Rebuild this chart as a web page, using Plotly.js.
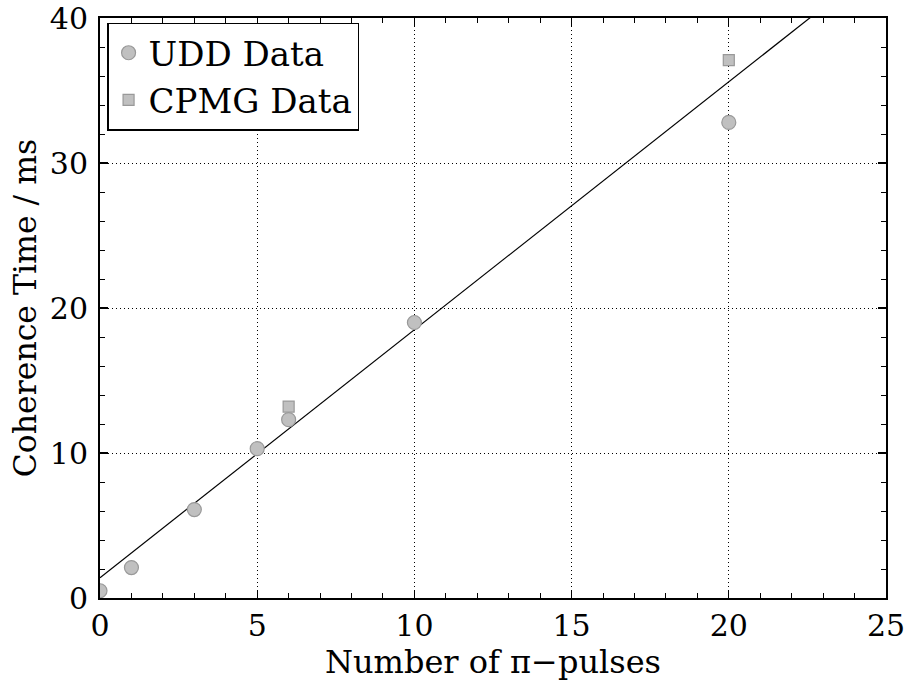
<!DOCTYPE html>
<html><head><meta charset="utf-8">
<script src="https://cdn.plot.ly/plotly-3.0.1.min.js"></script>
<style>body{margin:0;background:#fff}#chart{width:909px;height:681px}</style>
</head><body><div id="chart"></div>
<script>
var uddX = [0, 1, 3, 5, 6, 10, 20];
var uddY = [0.5, 2.1, 6.1, 10.3, 12.3, 19.0, 32.8];
var cpmgX = [6, 20];
var cpmgY = [13.2, 37.1];
var fitX = [0, 25];
var fitY = [1.4, 44.15];
var xTicks = [0, 5, 10, 15, 20, 25];
var yTicks = [0, 10, 20, 30, 40];

var F = "DejaVu Serif";
var traces = [
  {x: fitX, y: fitY, mode: 'lines', line: {color: '#000', width: 1.2}, showlegend: false, hoverinfo: 'skip'},
  {x: uddX, y: uddY, mode: 'markers', name: 'UDD Data',
   marker: {symbol: 'circle', size: 14, color: '#c0c0c0', line: {color: '#999', width: 1.2}}},
  {x: cpmgX, y: cpmgY, mode: 'markers', name: 'CPMG Data',
   marker: {symbol: 'square', size: 11, color: '#c0c0c0', line: {color: '#999', width: 1.2}}}
];
var axBase = {
  showline: true, linecolor: '#000', linewidth: 2, mirror: 'allticks',
  ticks: 'inside', ticklen: 8, tickwidth: 1.2, tickcolor: '#000',
  showgrid: true, gridcolor: '#000', griddash: '1px,3px', gridwidth: 1,
  zeroline: false, ticklabeloverflow: 'allow',
  tickfont: {family: F, size: 30, color: '#000'}
};
var layout = {
  width: 909, height: 681,
  margin: {l: 100, r: 23, t: 18, b: 83},
  paper_bgcolor: '#fff', plot_bgcolor: '#fff',
  font: {family: F, color: '#000'},
  xaxis: Object.assign({}, axBase, {
    range: [0, 25], tickvals: xTicks, ticktext: xTicks.map(String),
    minor: {dtick: 1, ticks: 'inside', ticklen: 5, tickcolor: '#000', tickwidth: 1, showgrid: false},
    title: {text: 'Number of π−pulses', font: {family: F, size: 32, color: '#000'}, standoff: 0}
  }),
  yaxis: Object.assign({}, axBase, {
    range: [0, 40], tickvals: yTicks, ticktext: yTicks.map(String), ticklabelstandoff: 4,
    minor: {dtick: 2, ticks: 'inside', ticklen: 5, tickcolor: '#000', tickwidth: 1, showgrid: false},
    title: {text: 'Coherence Time / ms', font: {family: F, size: 31.5, color: '#000'}, standoff: 4}
  }),
  legend: {x: 0.009, y: 0.992, xanchor: 'left', yanchor: 'top',
    bgcolor: '#fff', bordercolor: '#000', borderwidth: 1.5,
    font: {family: F, size: 34, color: '#000'}, itemwidth: 30, tracegroupgap: 0},
  showlegend: true
};
Plotly.newPlot('chart', traces, layout, {displayModeBar: false, staticPlot: true});
</script></body></html>
